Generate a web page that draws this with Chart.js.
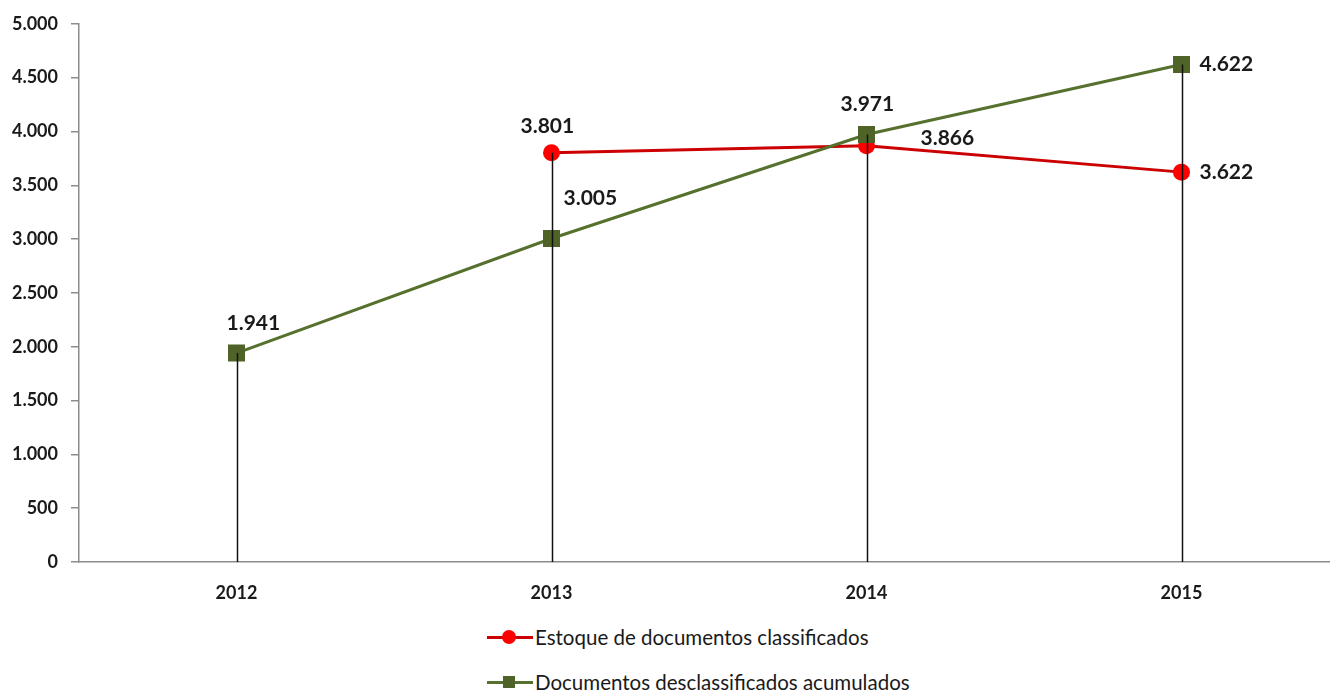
<!DOCTYPE html>
<html>
<head>
<meta charset="utf-8">
<script src="https://cdn.jsdelivr.net/npm/chart.js@4.4.1/dist/chart.umd.min.js"></script>
<style>
  html, body { margin: 0; padding: 0; background: #fff; overflow: hidden; }
  #wrap { position: relative; width: 1351px; height: 692px; }
  #c { display: block; }
  .legend { position: absolute; left: 487px; top: 622px; font-family: Lato, "Open Sans", sans-serif; font-size: 20.5px; color: #1a1a1a; }
  .item { display: flex; align-items: center; height: 30px; margin-bottom: 15px; }
  .mk { position: relative; width: 46px; height: 20px; margin-right: 2px; }
  .mk .ln { position: absolute; left: 0; right: 0; top: 8.5px; height: 3px; }
  .mk .dot { position: absolute; left: 15px; top: 3px; width: 14px; height: 14px; border-radius: 50%; background: #ff0000; }
  .mk .sq { position: absolute; left: 16px; top: 4px; width: 12px; height: 12px; background: #4f6228; }
</style>
</head>
<body>
<div id="wrap">
  <canvas id="c" width="1351" height="615"></canvas>
  <div class="legend" id="legend"></div>
</div>
<script>
// ---- data ----
const categories = ['2012', '2013', '2014', '2015'];
const estoqueClassificados = [null, 3801, 3866, 3622];
const desclassificadosAcumulados = [1941, 3005, 3971, 4622];
const seriesNames = ['Estoque de documentos classificados', 'Documentos desclassificados acumulados'];
const yTicks = [0, 500, 1000, 1500, 2000, 2500, 3000, 3500, 4000, 4500, 5000];

// ---- styling (label placement offsets, px from point) ----
const labelOffsets = [
  [null, [-31, -27], [54, -8], [18, 0]],
  [[-10, -30], [12, -40], [-26, -30], [18, 0]]
];

function fmt(v) {
  return String(v).replace(/\B(?=(\d{3})+(?!\d))/g, '.');
}

const dropLines = {
  id: 'dropLines',
  afterDatasetsDraw(chart) {
    const ctx = chart.ctx;
    const x = chart.scales.x, y = chart.scales.y;
    ctx.save();
    ctx.strokeStyle = '#111';
    ctx.lineWidth = 1.5;
    categories.forEach((c, i) => {
      const vals = chart.data.datasets.map(d => d.data[i]).filter(v => v != null);
      if (!vals.length) return;
      const top = Math.max(...vals);
      const px = Math.round(x.getPixelForValue(i)) + 0.5;
      ctx.beginPath();
      ctx.moveTo(px, y.getPixelForValue(top));
      ctx.lineTo(px, y.getPixelForValue(0));
      ctx.stroke();
    });
    ctx.restore();
  }
};

const valueLabels = {
  id: 'valueLabels',
  afterDraw(chart) {
    const ctx = chart.ctx;
    ctx.save();
    ctx.font = 'bold 21px Lato, "Open Sans", sans-serif';
    ctx.fillStyle = '#1a1a1a';
    ctx.textAlign = 'left';
    ctx.textBaseline = 'middle';
    chart.data.datasets.forEach((ds, di) => {
      const meta = chart.getDatasetMeta(di);
      meta.data.forEach((pt, i) => {
        const v = ds.data[i];
        const off = labelOffsets[di][i];
        if (v == null || !off) return;
        ctx.fillText(fmt(v), pt.x + off[0], pt.y + off[1]);
      });
    });
    ctx.restore();
  }
};

new Chart(document.getElementById('c'), {
  type: 'line',
  data: {
    labels: categories,
    datasets: [
      {
        label: seriesNames[0],
        data: estoqueClassificados,
        borderColor: '#cc0000',
        borderWidth: 3,
        pointStyle: 'circle',
        pointRadius: 8.5,
        pointBackgroundColor: '#ff0000',
        pointBorderColor: '#ff0000',
        pointBorderWidth: 0,
        tension: 0,
        order: 1
      },
      {
        label: seriesNames[1],
        data: desclassificadosAcumulados,
        borderColor: '#56702d',
        borderWidth: 3,
        pointStyle: 'rect',
        pointRadius: 12,
        pointBackgroundColor: '#4f6228',
        pointBorderColor: '#4f6228',
        pointBorderWidth: 0,
        tension: 0,
        order: 0
      }
    ]
  },
  options: {
    responsive: false,
    animation: false,
    layout: { padding: { top: 14, right: 0, bottom: 0, left: 0 } },
    plugins: { legend: { display: false }, tooltip: { enabled: false } },
    scales: {
      x: {
        type: 'category',
        offset: true,
        grid: { display: true, drawOnChartArea: false, drawTicks: false, color: '#8c8c8c' },
        border: { display: true, color: '#8c8c8c', width: 1.5 },
        ticks: { font: { family: 'Lato, "Open Sans", sans-serif', size: 18, weight: 'bold' }, color: '#1a1a1a', padding: 20, maxRotation: 0 },
        afterFit: s => { s.height = 53; }
      },
      y: {
        min: 0, max: 5000,
        afterBuildTicks: s => { s.ticks = yTicks.map(v => ({ value: v })); },
        grid: { display: true, drawOnChartArea: false, drawTicks: true, tickLength: 8, color: '#8c8c8c', lineWidth: 1.5 },
        border: { display: true, color: '#8c8c8c', width: 1.5 },
        ticks: { font: { family: 'Lato, "Open Sans", sans-serif', size: 18, weight: 'bold' }, color: '#1a1a1a', padding: 13, callback: v => fmt(v) },
        afterFit: s => { s.width = 79; }
      }
    }
  },
  plugins: [dropLines, valueLabels]
});

// HTML legend built from the series
const legend = document.getElementById('legend');
seriesNames.forEach((name, i) => {
  const item = document.createElement('div');
  item.className = 'item';
  const mk = document.createElement('div');
  mk.className = 'mk';
  const ln = document.createElement('div');
  ln.className = 'ln';
  ln.style.background = i === 0 ? '#cc0000' : '#56702d';
  const m = document.createElement('div');
  m.className = i === 0 ? 'dot' : 'sq';
  mk.appendChild(ln); mk.appendChild(m);
  const t = document.createElement('span');
  t.textContent = name;
  item.appendChild(mk); item.appendChild(t);
  legend.appendChild(item);
});
</script>
</body>
</html>
